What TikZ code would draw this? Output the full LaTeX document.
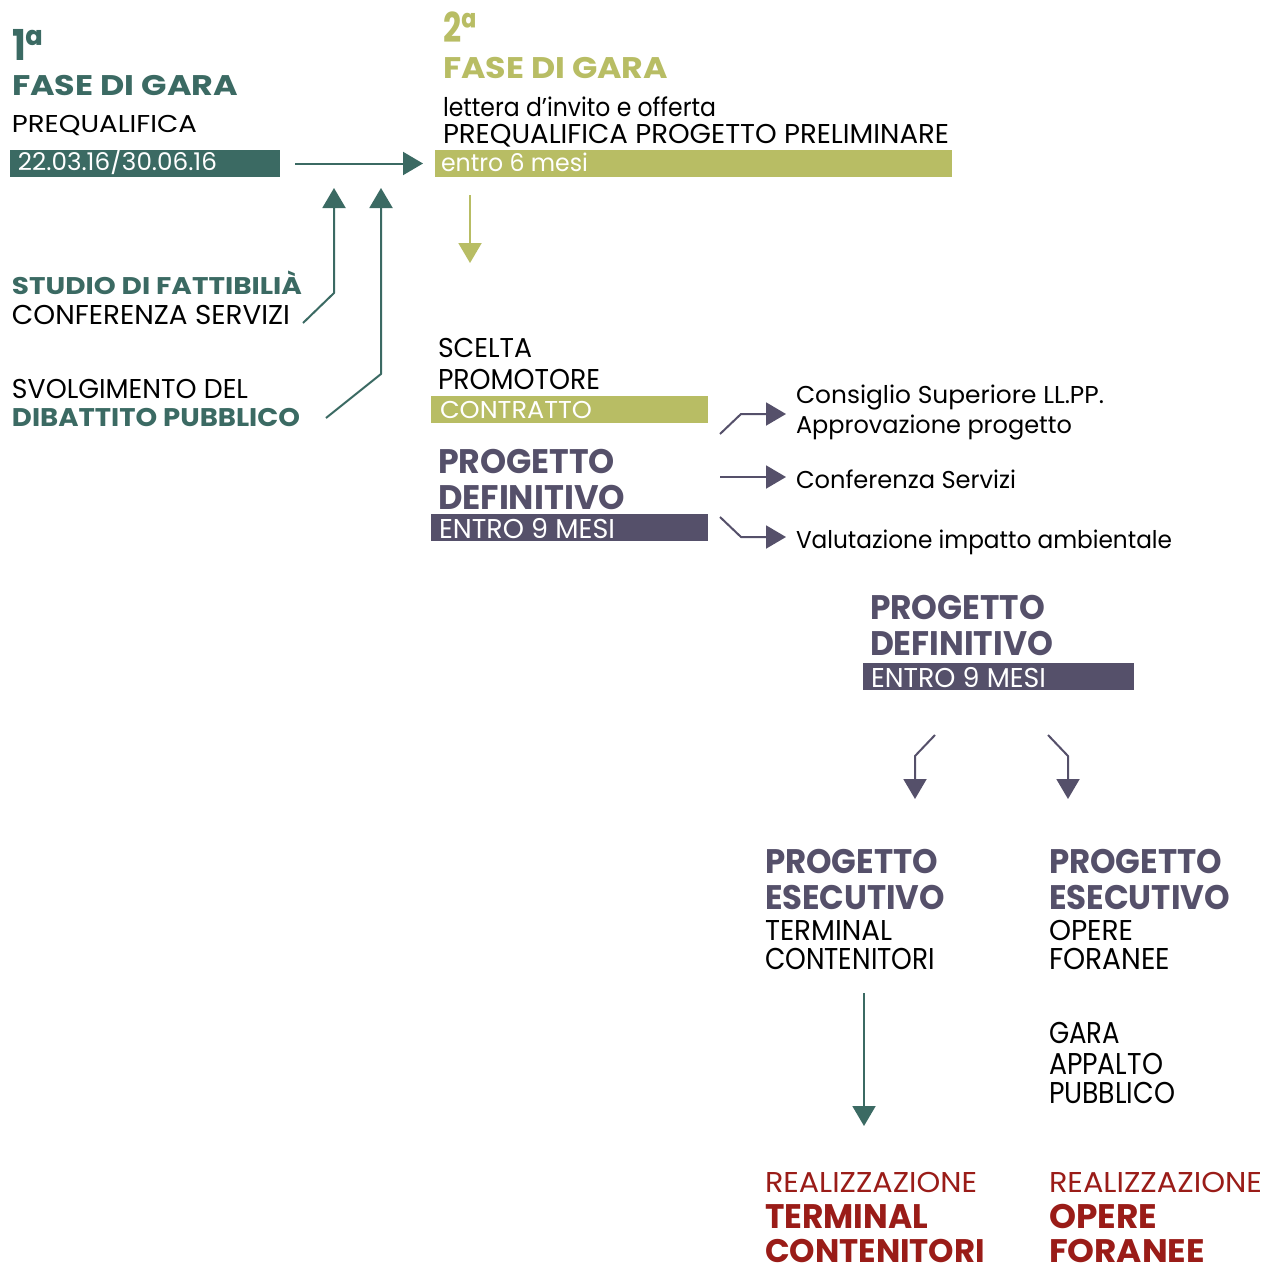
\documentclass[tikz,border=0pt]{standalone}
\usepackage{fontspec}
\setmainfont{Poppins}
\usetikzlibrary{arrows.meta}
\definecolor{cteal}{HTML}{3B6A63}
\definecolor{colive}{HTML}{B8BD64}
\definecolor{cpurple}{HTML}{55506A}
\definecolor{cred}{HTML}{9A1C18}
\newcommand\fitt[3]{\resizebox{#1pt}{#2pt}{\rule{0pt}{\fontcharht\font`\H}\smash{#3}}}
\begin{document}
\begin{tikzpicture}[x=1pt,y=-1pt,
  lbl/.style={anchor=base west, inner sep=0pt, outer sep=0pt},
  hv/.style={lbl, font=\bfseries},
  rg/.style={lbl, font=\mdseries},
  barbox/.style={anchor=north west, inner sep=0pt, outer sep=0pt, minimum height=27pt},
  arr/.style={line width=2pt, line join=round, -{Triangle[length=20pt,width=23pt]}}]
\useasboundingbox[fill=white] (0,0) rectangle (1270,1266);

% ---- first phase
\node[hv,text=cteal] (n1) at (12,60) {\fitt{31}{30}{1ª}};
\node[hv,text=cteal] (fase1) at (12,95) {\fitt{226}{20}{FASE DI GARA}};
\node[rg] (preq) at (12,132) {\fitt{185}{17}{PREQUALIFICA}};
\node[barbox,fill=cteal,minimum width=270pt] (b1) at (10,150) {};
\node[rg,text=white] (b1t) at (18,170) {\fitt{199}{17}{22.03.16/30.06.16}};

\node[hv,text=cteal] (studio) at (12,294) {\fitt{290}{17}{STUDIO DI FATTIBILIÀ}};
\node[rg] (conf) at (12,324) {\fitt{278}{19}{CONFERENZA SERVIZI}};
\node[rg] (svol) at (12,398) {\fitt{236}{19}{SVOLGIMENTO DEL}};
\node[hv,text=cteal] (dib) at (12,426) {\fitt{288}{18}{DIBATTITO PUBBLICO}};

% ---- second phase
\node[hv,text=colive] (n2) at (443,42) {\fitt{33}{29}{2ª}};
\node[hv,text=colive] (fase2) at (443,78) {\fitt{225}{21}{FASE DI GARA}};
\node[rg] (lett) at (443,116) {\fitt{273}{18}{lettera d'invito e offerta}};
\node[rg] (pqpp) at (443,143) {\fitt{506}{19}{PREQUALIFICA PROGETTO PRELIMINARE}};
\node[barbox,fill=colive,minimum width=517pt] (b2) at (435,150) {};
\node[rg,text=white] (b2t) at (441,171) {\fitt{147}{17}{entro 6 mesi}};

\node[rg] (scelta) at (438,357) {\fitt{94}{19}{SCELTA}};
\node[rg] (prom) at (438,389) {\fitt{162}{20}{PROMOTORE}};
\node[barbox,fill=colive,minimum width=277pt] (b3) at (431,396) {};
\node[rg,text=white] (b3t) at (440,418) {\fitt{152}{17}{CONTRATTO}};

\node[hv,text=cpurple] (pg1) at (438,473) {\fitt{177}{24}{PROGETTO}};
\node[hv,text=cpurple] (df1) at (438,509) {\fitt{187}{24}{DEFINITIVO}};
\node[barbox,fill=cpurple,minimum width=277pt] (b4) at (431,514) {};
\node[rg,text=white] (b4t) at (439,538) {\fitt{176}{19}{ENTRO 9 MESI}};

\node[rg] (cons) at (796,403) {\fitt{308}{17}{Consiglio Superiore LL.PP.}};
\node[rg] (appr) at (796,433) {\fitt{276}{17}{Approvazione progetto}};
\node[rg] (confs) at (796,488) {\fitt{220}{17}{Conferenza Servizi}};
\node[rg] (valu) at (796,548) {\fitt{376}{17}{Valutazione impatto ambientale}};

% ---- second definitive
\node[hv,text=cpurple] (pg2) at (870,619) {\fitt{175}{24}{PROGETTO}};
\node[hv,text=cpurple] (df2) at (870,655) {\fitt{183}{24}{DEFINITIVO}};
\node[barbox,fill=cpurple,minimum width=271pt] (b5) at (863,663) {};
\node[rg,text=white] (b5t) at (871,687) {\fitt{175}{19}{ENTRO 9 MESI}};

% ---- executive
\node[hv,text=cpurple] (pe1) at (765,873) {\fitt{173}{24}{PROGETTO}};
\node[hv,text=cpurple] (es1) at (765,909) {\fitt{180}{24}{ESECUTIVO}};
\node[rg] (term1) at (765,940) {\fitt{127}{20}{TERMINAL}};
\node[rg] (cont1) at (765,969) {\fitt{170}{21}{CONTENITORI}};
\node[hv,text=cpurple] (pe2) at (1049,873) {\fitt{173}{24}{PROGETTO}};
\node[hv,text=cpurple] (es2) at (1049,909) {\fitt{181}{24}{ESECUTIVO}};
\node[rg] (op1) at (1049,940) {\fitt{84}{20}{OPERE}};
\node[rg] (for1) at (1049,969) {\fitt{121}{21}{FORANEE}};
\node[rg] (gara) at (1049,1043) {\fitt{71}{21}{GARA}};
\node[rg] (appa) at (1049,1074) {\fitt{114}{21}{APPALTO}};
\node[rg] (pubb) at (1049,1103) {\fitt{126}{21}{PUBBLICO}};

\node[rg,text=cred] (rea1) at (765,1192) {\fitt{212}{20}{REALIZZAZIONE}};
\node[hv,text=cred] (rt1) at (765,1228) {\fitt{163}{24}{TERMINAL}};
\node[hv,text=cred] (rc1) at (765,1262) {\fitt{220}{23}{CONTENITORI}};
\node[rg,text=cred] (rea2) at (1049,1192) {\fitt{213}{20}{REALIZZAZIONE}};
\node[hv,text=cred] (ro2) at (1049,1228) {\fitt{108}{24}{OPERE}};
\node[hv,text=cred] (rf2) at (1049,1262) {\fitt{156}{23}{FORANEE}};

% ---- connectors
\draw[arr,cteal,shorten <=15pt,shorten >=12pt] (b1.east) -- (b2.west);
\coordinate (u1s) at (303,323); \coordinate (u1k) at (334,293); \coordinate (u1e) at (334,188);
\draw[arr,cteal] (u1s) -- (u1k) -- (u1e);
\coordinate (u2s) at (326,418); \coordinate (u2k) at (381,374); \coordinate (u2e) at (381,188);
\draw[arr,cteal] (u2s) -- (u2k) -- (u2e);
\coordinate (d1s) at (470,195); \coordinate (d1e) at (470,263);
\draw[arr,colive] (d1s) -- (d1e);

\coordinate (r1s) at (720,434); \coordinate (r1k) at (741,414);
\draw[arr,cpurple,shorten >=10pt] (r1s) -- (r1k) -- (r1k -| cons.west);
\coordinate (r2s) at (720,477);
\draw[arr,cpurple,shorten >=10pt] (r2s) -- (r2s -| confs.west);
\coordinate (r3s) at (720,517); \coordinate (r3k) at (741,537);
\draw[arr,cpurple,shorten >=10pt] (r3s) -- (r3k) -- (r3k -| valu.west);

\coordinate (l1s) at (935,735); \coordinate (l1k) at (915,756); \coordinate (l1e) at (915,799);
\draw[arr,cpurple] (l1s) -- (l1k) -- (l1e);
\coordinate (l2s) at (1048,735); \coordinate (l2k) at (1068,756); \coordinate (l2e) at (1068,799);
\draw[arr,cpurple] (l2s) -- (l2k) -- (l2e);

\coordinate (t1s) at (864,993); \coordinate (t1e) at (864,1126);
\draw[arr,cteal] (t1s) -- (t1e);
\end{tikzpicture}
\end{document}
